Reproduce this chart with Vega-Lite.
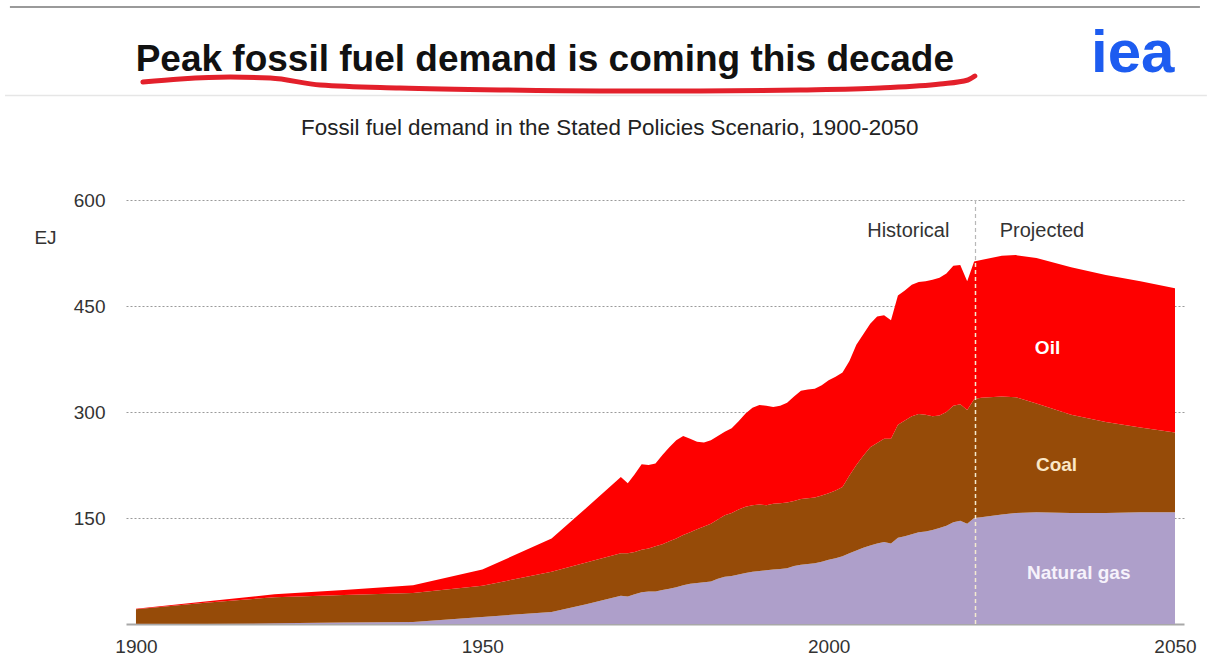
{
  "$schema": "https://vega.github.io/schema/vega-lite/v6.json",
  "width": 1058,
  "height": 424,
  "autosize": {"type": "none"},
  "padding": {"left": 126, "top": 200, "right": 23, "bottom": 47},
  "background": "white",
  "config": {"view": {"stroke": null}, "font": "Liberation Sans"},
  "datasets": {
    "demand": [
      {"year": 1900, "gas": 0.3, "coal": 20.7, "oil": 0.5},
      {"year": 1910, "gas": 0.5, "coal": 29.5, "oil": 2},
      {"year": 1920, "gas": 1, "coal": 37, "oil": 4},
      {"year": 1930, "gas": 2, "coal": 39, "oil": 7},
      {"year": 1940, "gas": 3, "coal": 41, "oil": 11},
      {"year": 1950, "gas": 10, "coal": 44, "oil": 23},
      {"year": 1960, "gas": 17, "coal": 57, "oil": 47},
      {"year": 1965, "gas": 28, "coal": 59, "oil": 77},
      {"year": 1970, "gas": 40, "coal": 60, "oil": 108},
      {"year": 1971, "gas": 39, "coal": 61, "oil": 99},
      {"year": 1972, "gas": 42, "coal": 60, "oil": 110},
      {"year": 1973, "gas": 45, "coal": 60, "oil": 121},
      {"year": 1974, "gas": 46, "coal": 61, "oil": 118},
      {"year": 1975, "gas": 46, "coal": 64, "oil": 117},
      {"year": 1976, "gas": 48, "coal": 65, "oil": 126},
      {"year": 1977, "gas": 50, "coal": 67, "oil": 133},
      {"year": 1978, "gas": 52, "coal": 69, "oil": 139},
      {"year": 1979, "gas": 55, "coal": 71, "oil": 140},
      {"year": 1980, "gas": 57, "coal": 73, "oil": 132},
      {"year": 1981, "gas": 58, "coal": 76, "oil": 124},
      {"year": 1982, "gas": 59, "coal": 79, "oil": 119},
      {"year": 1983, "gas": 60, "coal": 82, "oil": 118},
      {"year": 1984, "gas": 64, "coal": 84, "oil": 118},
      {"year": 1985, "gas": 67, "coal": 87, "oil": 118},
      {"year": 1986, "gas": 68, "coal": 89, "oil": 120},
      {"year": 1987, "gas": 70, "coal": 92, "oil": 125},
      {"year": 1988, "gas": 72, "coal": 94, "oil": 132},
      {"year": 1989, "gas": 74, "coal": 94, "oil": 138},
      {"year": 1990, "gas": 75, "coal": 94, "oil": 141},
      {"year": 1991, "gas": 76, "coal": 92, "oil": 141},
      {"year": 1992, "gas": 77, "coal": 93, "oil": 137},
      {"year": 1993, "gas": 78, "coal": 93, "oil": 138},
      {"year": 1994, "gas": 79, "coal": 93, "oil": 141},
      {"year": 1995, "gas": 82, "coal": 92, "oil": 148},
      {"year": 1996, "gas": 84, "coal": 93, "oil": 153},
      {"year": 1997, "gas": 85, "coal": 93, "oil": 154},
      {"year": 1998, "gas": 86, "coal": 93, "oil": 154},
      {"year": 1999, "gas": 88, "coal": 94, "oil": 156},
      {"year": 2000, "gas": 91, "coal": 94, "oil": 160},
      {"year": 2001, "gas": 93, "coal": 96, "oil": 161},
      {"year": 2002, "gas": 96, "coal": 98, "oil": 162},
      {"year": 2003, "gas": 100, "coal": 110, "oil": 162},
      {"year": 2004, "gas": 104, "coal": 121, "oil": 170},
      {"year": 2005, "gas": 108, "coal": 130, "oil": 172},
      {"year": 2006, "gas": 111, "coal": 139, "oil": 175},
      {"year": 2007, "gas": 114, "coal": 142, "oil": 179},
      {"year": 2008, "gas": 116, "coal": 146, "oil": 175},
      {"year": 2009, "gas": 114, "coal": 148, "oil": 168},
      {"year": 2010, "gas": 122, "coal": 160, "oil": 183},
      {"year": 2011, "gas": 124, "coal": 164, "oil": 184},
      {"year": 2012, "gas": 127, "coal": 167, "oil": 186},
      {"year": 2013, "gas": 130, "coal": 167, "oil": 187},
      {"year": 2014, "gas": 131, "coal": 165, "oil": 189},
      {"year": 2015, "gas": 133, "coal": 161, "oil": 193},
      {"year": 2016, "gas": 136, "coal": 159, "oil": 195},
      {"year": 2017, "gas": 139, "coal": 161, "oil": 196},
      {"year": 2018, "gas": 144, "coal": 165, "oil": 198},
      {"year": 2019, "gas": 146, "coal": 165, "oil": 197},
      {"year": 2020, "gas": 142, "coal": 161, "oil": 182},
      {"year": 2021, "gas": 150, "coal": 168, "oil": 195},
      {"year": 2022, "gas": 151, "coal": 169, "oil": 195},
      {"year": 2025, "gas": 155, "coal": 167, "oil": 199},
      {"year": 2027, "gas": 157, "coal": 164, "oil": 201},
      {"year": 2030, "gas": 158, "coal": 154, "oil": 206},
      {"year": 2035, "gas": 157, "coal": 139, "oil": 209},
      {"year": 2040, "gas": 157, "coal": 129, "oil": 208},
      {"year": 2045, "gas": 158, "coal": 120, "oil": 207},
      {"year": 2050, "gas": 158, "coal": 113, "oil": 204}
    ],
    "underline": [
      {"year": 1901.0, "ej": 767.0},
      {"year": 1906.4, "ej": 771.2},
      {"year": 1913.6, "ej": 774.0},
      {"year": 1919.4, "ej": 772.6},
      {"year": 1926.6, "ej": 762.7},
      {"year": 1938.1, "ej": 758.5},
      {"year": 1952.6, "ej": 755.7},
      {"year": 1967.0, "ej": 754.3},
      {"year": 1981.4, "ej": 754.3},
      {"year": 1995.9, "ej": 755.7},
      {"year": 2007.4, "ej": 758.5},
      {"year": 2016.1, "ej": 764.1},
      {"year": 2020.1, "ej": 769.8},
      {"year": 2021.1, "ej": 775.4}
    ]
  },
  "layer": [
    {
      "data": {"values": [{}]},
      "mark": {"type": "rule", "color": "#b8b8b8", "strokeDash": [4, 3], "strokeWidth": 1.2},
      "encoding": {
        "x": {"datum": 2021.2, "type": "quantitative"},
        "y": {"datum": 0, "type": "quantitative"},
        "y2": {"datum": 600}
      }
    },
    {
      "data": {"name": "demand"},
      "transform": [
        {"fold": ["gas", "coal", "oil"], "as": ["fuel", "ej"]},
        {"calculate": "indexof(['gas', 'coal', 'oil'], datum.fuel)", "as": "stack_rank"}
      ],
      "mark": {"type": "area", "interpolate": "linear"},
      "encoding": {
        "x": {
          "field": "year",
          "type": "quantitative",
          "scale": {"domain": [1898.56, 2051.3], "nice": false, "zero": false},
          "axis": {
            "values": [1900, 1950, 2000, 2050],
            "format": "d",
            "grid": false,
            "ticks": false,
            "domainColor": "#a8a8a8",
            "domainWidth": 2,
            "labelFontSize": 19,
            "labelColor": "#333333",
            "labelPadding": 13,
            "labelFont": "Liberation Sans",
            "title": null
          }
        },
        "y": {
          "field": "ej",
          "type": "quantitative",
          "stack": "zero",
          "scale": {"domain": [0, 600], "nice": false},
          "axis": {
            "values": [150, 300, 450, 600],
            "grid": true,
            "gridDash": [2, 2],
            "gridColor": "#9a9a9a",
            "gridWidth": 1,
            "domain": false,
            "ticks": false,
            "labelFontSize": 19,
            "labelColor": "#333333",
            "labelPadding": 21,
            "labelFont": "Liberation Sans",
            "title": "EJ",
            "titleAngle": 0,
            "titleX": -81,
            "titleY": 37,
            "titleAlign": "center",
            "titleBaseline": "middle",
            "titleFontSize": 19,
            "titleFontWeight": "normal",
            "titleColor": "#333333",
            "titleFont": "Liberation Sans"
          }
        },
        "color": {
          "field": "fuel",
          "type": "nominal",
          "scale": {"domain": ["gas", "coal", "oil"], "range": ["#ae9fca", "#964b08", "#fe0000"]},
          "legend": null
        },
        "order": {"field": "stack_rank", "type": "quantitative", "sort": "ascending"}
      }
    },
    {
      "data": {"values": [{}]},
      "mark": {"type": "rule", "color": "#f4ead0", "strokeDash": [4, 3], "strokeWidth": 1.5},
      "encoding": {
        "x": {"datum": 2021.2, "type": "quantitative"},
        "y": {"datum": 0, "type": "quantitative"},
        "y2": {"datum": 513}
      }
    },
    {
      "data": {"values": [{}]},
      "mark": {"type": "text", "text": "Historical", "fontSize": 20, "color": "#333333", "align": "center", "baseline": "middle"},
      "encoding": {"x": {"datum": 2011.5, "type": "quantitative"}, "y": {"datum": 556, "type": "quantitative"}}
    },
    {
      "data": {"values": [{}]},
      "mark": {"type": "text", "text": "Projected", "fontSize": 20, "color": "#333333", "align": "center", "baseline": "middle"},
      "encoding": {"x": {"datum": 2030.8, "type": "quantitative"}, "y": {"datum": 556, "type": "quantitative"}}
    },
    {
      "data": {"values": [{}]},
      "mark": {"type": "text", "text": "Oil", "fontSize": 19, "fontWeight": "bold", "color": "#ffffff", "align": "center", "baseline": "middle"},
      "encoding": {"x": {"datum": 2031.6, "type": "quantitative"}, "y": {"datum": 390.5, "type": "quantitative"}}
    },
    {
      "data": {"values": [{}]},
      "mark": {"type": "text", "text": "Coal", "fontSize": 19, "fontWeight": "bold", "color": "#fbe7c6", "align": "center", "baseline": "middle"},
      "encoding": {"x": {"datum": 2032.9, "type": "quantitative"}, "y": {"datum": 225, "type": "quantitative"}}
    },
    {
      "data": {"values": [{}]},
      "mark": {"type": "text", "text": "Natural gas", "fontSize": 19, "fontWeight": "bold", "color": "#f6f2fb", "align": "center", "baseline": "middle"},
      "encoding": {"x": {"datum": 2036.1, "type": "quantitative"}, "y": {"datum": 72, "type": "quantitative"}}
    },
    {
      "data": {"values": [{}]},
      "mark": {"type": "text", "text": "Peak fossil fuel demand is coming this decade", "fontSize": 37, "fontWeight": "bold", "color": "#111111", "align": "left", "baseline": "alphabetic"},
      "encoding": {"x": {"datum": 1899.95, "type": "quantitative"}, "y": {"datum": 782.5, "type": "quantitative"}}
    },
    {
      "data": {"values": [{}]},
      "mark": {"type": "text", "text": "Fossil fuel demand in the Stated Policies Scenario, 1900-2050", "fontSize": 22.4, "color": "#222222", "align": "center", "baseline": "middle"},
      "encoding": {"x": {"datum": 1968.4, "type": "quantitative"}, "y": {"datum": 702, "type": "quantitative"}}
    },
    {
      "data": {"values": [{}]},
      "mark": {"type": "text", "text": "iea", "fontSize": 60, "fontWeight": "bold", "color": "#1d5cf0", "align": "center", "baseline": "alphabetic"},
      "encoding": {"x": {"datum": 2043.9, "type": "quantitative"}, "y": {"datum": 781, "type": "quantitative"}}
    },
    {
      "data": {"values": [{}]},
      "mark": {"type": "rule", "color": "#9a9a9a", "strokeWidth": 2},
      "encoding": {
        "x": {"datum": 1881.8, "type": "quantitative"},
        "x2": {"datum": 2053.6},
        "y": {"datum": 873, "type": "quantitative"}
      }
    },
    {
      "data": {"values": [{}]},
      "mark": {"type": "rule", "color": "#e6e6e6", "strokeWidth": 1.5},
      "encoding": {
        "x": {"datum": 1881.1, "type": "quantitative"},
        "x2": {"datum": 2054.6},
        "y": {"datum": 748, "type": "quantitative"}
      }
    },
    {
      "data": {"name": "underline"},
      "mark": {"type": "line", "color": "#e3202b", "strokeWidth": 5, "strokeCap": "round", "interpolate": "monotone"},
      "encoding": {
        "x": {"field": "year", "type": "quantitative"},
        "y": {"field": "ej", "type": "quantitative"}
      }
    }
  ]
}
